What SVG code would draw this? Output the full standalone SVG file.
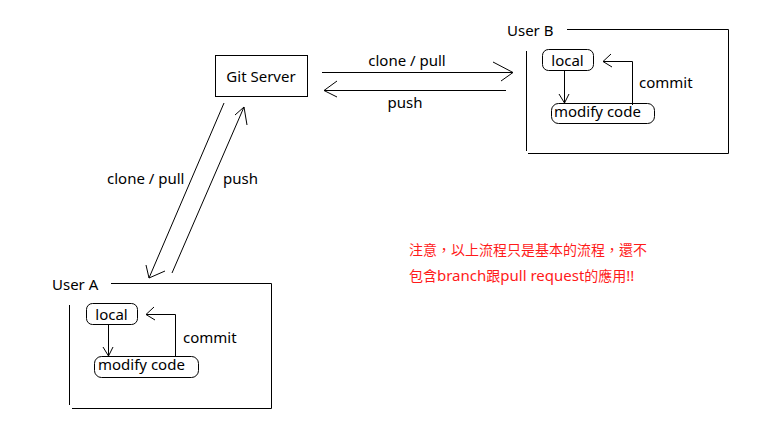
<svg xmlns="http://www.w3.org/2000/svg" width="778" height="430" viewBox="0 0 778 430">
<style>
.ln{fill:none;stroke:#000;stroke-width:1}
.t{font-family:"Noto Sans","Open Sans","Liberation Sans",sans-serif;font-size:15px;fill:#000}
.r{font-family:"Noto Sans CJK TC","Noto Sans",sans-serif;font-size:14px;fill:#ff1a1a}
.rl{font-family:"Noto Sans","Noto Sans CJK TC",sans-serif;font-size:15px}
</style>
<rect width="778" height="430" fill="#fff"/>
<g id="git-server">
<rect class="ln" x="215.5" y="55.5" width="92" height="41"/>
<text class="t" x="261" y="82" text-anchor="middle">Git Server</text>
</g>
<g id="user-b">
<text class="t" x="507" y="36">User  B</text>
<path class="ln" d="M567 29.5H728.5V153.5H528M526.5 51V151"/>
<g id="user-b-local">
<rect class="ln" x="542.5" y="49.5" width="51" height="21" rx="6"/>
<text class="t" x="567.5" y="66" text-anchor="middle">local</text>
</g>
<g id="user-b-modify">
<rect class="ln" x="551.5" y="103.5" width="103" height="20" rx="7"/>
<text class="t" x="554" y="117">modify code</text>
</g>
<text class="t" x="639" y="88">commit</text>
</g>
<g id="user-a">
<text class="t" x="52" y="290">User A</text>
<path class="ln" d="M111 283.5H271.5V408.5H72M69.5 305V405"/>
<g id="user-a-local">
<rect class="ln" x="86.5" y="303.5" width="51" height="21" rx="6"/>
<text class="t" x="111.5" y="320" text-anchor="middle">local</text>
</g>
<g id="user-a-modify">
<rect class="ln" x="94.5" y="356.5" width="104" height="21" rx="7"/>
<text class="t" x="98" y="370">modify code</text>
</g>
<text class="t" x="183" y="343">commit</text>
</g>
<g id="connectors">
<path class="ln" d="M322 72.5H513M493 62L513 72.5L501 81"/>
<path class="ln" d="M506 90.5H324M337 81L324 90.5L337 97"/>
<path class="ln" d="M224 103L149 278M146 265L149 278L165 271"/>
<path class="ln" d="M172 273L244 107M235 115L244 107L247 125"/>
<path class="ln" d="M564.5 70V103M559 94L564.5 103L569 94"/>
<path class="ln" d="M632.5 105V61.5H603M611 54L603 61.5L612 67"/>
<path class="ln" d="M108.5 324V356M103 347L108.5 356L113 347"/>
<path class="ln" d="M175.5 357V314.5H146M154 307L146 314.5L155 320"/>
</g>
<g id="labels">
<text class="t" x="407" y="66" text-anchor="middle">clone / pull</text>
<text class="t" x="405" y="108" text-anchor="middle">push</text>
<text class="t" x="107" y="184">clone / pull</text>
<text class="t" x="223" y="184">push</text>
</g>
<g id="note">
<text class="r" x="409" y="255">注意，以上流程只是基本的流程，還不</text>
<text class="r" x="409" y="281">包含<tspan class="rl">branch</tspan>跟<tspan class="rl">pull request</tspan>的應用<tspan class="rl">!!</tspan></text>
</g>
</svg>
